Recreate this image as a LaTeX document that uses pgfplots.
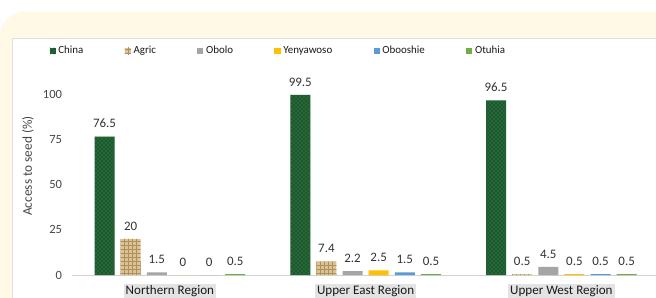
\documentclass[border=0pt]{standalone}
\usepackage{pgfplots}
\pgfplotsset{compat=1.18}
\usepackage{fontspec}
\setmainfont{Carlito}
\usetikzlibrary{patterns}
\definecolor{cream}{RGB}{255,249,230}
\definecolor{chinagreen}{RGB}{28,88,48}
\definecolor{agrictan}{RGB}{222,196,140}
\definecolor{agricbrown}{RGB}{150,115,65}
\definecolor{obolo}{RGB}{165,165,165}
\definecolor{yeny}{RGB}{255,192,0}
\definecolor{oboo}{RGB}{91,155,213}
\definecolor{otuhia}{RGB}{112,173,71}
\definecolor{lblgray}{RGB}{50,50,50}
\definecolor{tickgray}{RGB}{70,70,70}
\begin{document}
\begin{tikzpicture}
\useasboundingbox (0pt,0pt) rectangle (492pt,222.75pt);
\fill[white] (0pt,0pt) rectangle (492pt,222.75pt);
\fill[cream, rounded corners=18pt] (0pt,-20pt) rectangle (530pt,213.75pt);
\filldraw[fill=white, draw=gray!25, line width=0.75pt] (9.4pt,-20pt) rectangle (530pt,193.5pt);
\begin{axis}[
  at={(54pt,16.5pt)}, anchor=south west,
  x=146.8pt, y=1.3575pt,
  xmin=-0.5, xmax=2.5, ymin=0, ymax=110,
  clip=false,
  axis x line*=bottom, axis y line*=left,
  y axis line style={draw=none},
  x axis line style={draw=gray!35, line width=0.75pt},
  major tick length=0pt,
  ytick={0,25,50,75,100},
  xtick={0,1,2},
  xticklabels={Northern Region, Upper East Region, Upper West Region},
  /pgf/number format/assume math mode=true,
  yticklabel style={font=\fontsize{9.4}{11}\selectfont, text=tickgray, xshift=-4pt},
  xticklabel style={font=\fontsize{9.8}{11}\selectfont, text=black!90, fill=gray!22, inner sep=1.5pt, anchor=center, yshift=-12.4pt},
  ybar=4.6pt, bar width=15pt,
  nodes near coords,
  every node near coord/.append style={font=\fontsize{9.7}{11}\selectfont, text=lblgray, yshift=3pt},
  legend columns=6,
  legend style={at={(0.352,1.125)}, anchor=center, draw=none, fill=none,
    font=\fontsize{8.2}{10}\selectfont, text=black!90,
    /tikz/every even column/.append style={column sep=29pt},
    inner sep=0pt},
  legend image code/.code={\fill[#1] (0pt,-2.3pt) rectangle (4.6pt,2.3pt);},
]
\addplot[fill=chinagreen, draw=none, postaction={pattern=crosshatch dots, pattern color=green!45!black!70}] coordinates {(0,76.5) (1,99.5) (2,96.5)};
\addplot[fill=agrictan, draw=none, postaction={pattern=grid, pattern color=agricbrown!80}] coordinates {(0,20) (1,7.4) (2,0.5)};
\addplot[fill=obolo, draw=none] coordinates {(0,1.5) (1,2.2) (2,4.5)};
\addplot[fill=yeny, draw=none] coordinates {(0,0) (1,2.5) (2,0.5)};
\addplot[fill=oboo, draw=none] coordinates {(0,0) (1,1.5) (2,0.5)};
\addplot[fill=otuhia, draw=none] coordinates {(0,0.5) (1,0.5) (2,0.5)};
\legend{China, Agric, Obolo, Yenyawoso, Obooshie, Otuhia}
\end{axis}
\node[rotate=90, font=\fontsize{10}{12}\selectfont, text=tickgray] at (21pt,98.25pt) {Access to seed (\%)};
\end{tikzpicture}
\end{document}
